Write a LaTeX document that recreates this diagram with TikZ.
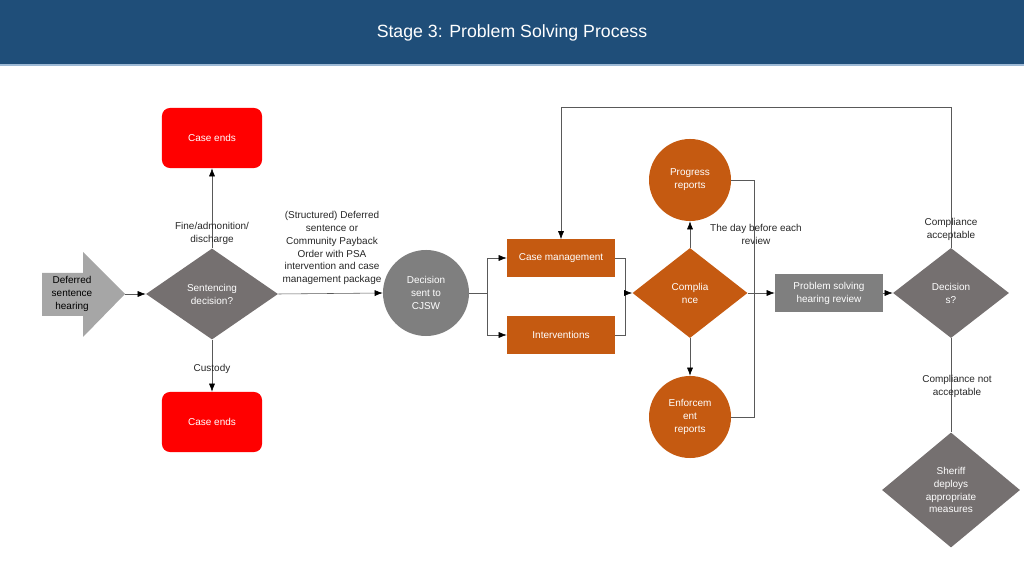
\documentclass[tikz,border=0pt]{standalone}
\usepackage{fontspec}
\setmainfont{Liberation Sans}
\usepackage{tikz}
\usetikzlibrary{arrows.meta,shapes.geometric}
\definecolor{headblue}{HTML}{1F4E79}
\definecolor{headline}{HTML}{9DB9D5}
\definecolor{redbox}{HTML}{FF0000}
\definecolor{rust}{HTML}{C55A11}
\definecolor{darkgrey}{HTML}{757070}
\definecolor{midgrey}{HTML}{7F7F7F}
\definecolor{lightgrey}{HTML}{A6A6A6}
\definecolor{linegrey}{HTML}{595959}
\definecolor{txtgrey}{HTML}{262626}

\begin{document}
\begin{tikzpicture}[x=0.025cm, y=-0.025cm,
    >={Latex[length=0.2cm,width=0.15cm,color=black]},
    every node/.style={font=\fontsize{7.1pt}{9.2pt}\selectfont, align=center},
    endbox/.style={fill=redbox, text=white, rounded corners=0.2cm,
      minimum width=2.5cm, minimum height=1.5cm},
    taskbox/.style={fill=rust, text=white, minimum width=2.7cm, minimum height=0.925cm},
    greybox/.style={fill=midgrey, text=white, minimum width=2.7cm, minimum height=0.925cm},
    ask/.style={diamond, fill=darkgrey, text=white, inner sep=0pt},
    ring/.style={circle, text=white, minimum size=2.05cm, inner sep=0pt},
    lbl/.style={text=txtgrey},
    line/.style={draw=linegrey, thin}]
  \useasboundingbox (0,0) rectangle (1024,576);

  % Kopfzeile
  \fill[headblue] (0,0) rectangle (1024,65);
  \draw[headline, line width=1pt] (0,65) -- (1024,65);
  \node[text=white, font=\fontsize{12.6pt}{15pt}\selectfont] (title) at (512,33)
    {Stage 3: Problem Solving Process};

  % Eingangspfeil
  \fill[lightgrey] (42,273) -- (83,273) -- (83,252) -- (125,294)
    -- (83,337) -- (83,316) -- (42,316) -- cycle;
  \node[text=black] (hearing) at (72,294) {Deferred\\sentence\\hearing};
  \coordinate (hearingtip) at (125,294);

  % Urteil
  \node[ask, minimum width=3.3cm, minimum height=2.275cm] (sentencing) at (212,294)
    {Sentencing\\decision?};
  \node[endbox] (endtop) at (212,138) {Case ends};
  \node[endbox] (endbottom) at (212,422) {Case ends};
  \node[ring, fill=midgrey, minimum size=2.15cm] (cjsw) at (426,293)
    {Decision\\sent to\\CJSW};

  \draw[line, ->] (hearingtip) -- (sentencing.west);
  \draw[line, ->] (sentencing.north) -- (endtop.south);
  \draw[line, ->] (sentencing.south) -- (endbottom.north);
  \draw[line, ->] (sentencing.east) -- (cjsw.west);
  \node[lbl] (finelbl) at (212,233) {Fine/admonition/\\discharge};
  \node[lbl] (custodylbl) at (212,369) {Custody};
  \node[lbl] (orderlbl) at (332,248) {(Structured) Deferred\\sentence or\\Community Payback\\Order with PSA\\intervention and case\\management package};

  % Massnahmen
  \node[taskbox] (casemgmt) at (561,258) {Case management};
  \node[taskbox] (interventions) at (561,335) {Interventions};
  \coordinate (split) at (487,293);
  \coordinate (merge) at (625,293);
  \draw[line] (cjsw.east) -- (split);
  \draw[line, ->] (split) |- (casemgmt.west);
  \draw[line, ->] (split) |- (interventions.west);
  \draw[line] (casemgmt.east) -| (merge);
  \draw[line] (interventions.east) -| (merge);

  % Compliance
  \node[ask, fill=rust, minimum width=2.875cm, minimum height=2.25cm] (compliance) at (690,293)
    {Complia\\nce};
  \node[ring, fill=rust] (progress) at (690,180) {Progress\\reports};
  \node[ring, fill=rust] (enforcement) at (690,417) {Enforcem\\ent\\reports};
  \draw[line, ->] (merge) -- (compliance.west);
  \draw[line, ->] (compliance.north) -- (progress.south);
  \draw[line, ->] (compliance.south) -- (enforcement.north);
  \node[lbl] (daylbl) at (756,234) {The day before each\\review};

  % Ueberpruefung
  \node[greybox] (review) at (829,293) {Problem solving\\hearing review};
  \node[ask, minimum width=2.9cm, minimum height=2.25cm] (decisions) at (951,293)
    {Decision\\s?};
  \node[ask, minimum width=3.45cm, minimum height=2.875cm] (sheriff) at (951,490)
    {Sheriff\\deploys\\appropriate\\measures};
  \coordinate (gather) at (754,293);
  \coordinate (looptop) at (951,107);
  \draw[line] (progress.east) -| (gather);
  \draw[line] (enforcement.east) -| (gather);
  \draw[line, ->] (compliance.east) -- (review.west);
  \draw[line, ->] (review.east) -- (decisions.west);
  \draw[line, ->] (decisions.north) -- (looptop) -| (casemgmt.north);
  \draw[line] (decisions.south) -- (sheriff.north);
  \node[lbl] (oklbl) at (951,229) {Compliance\\acceptable};
  \node[lbl] (notoklbl) at (957,386) {Compliance not\\acceptable};
\end{tikzpicture}
\end{document}
